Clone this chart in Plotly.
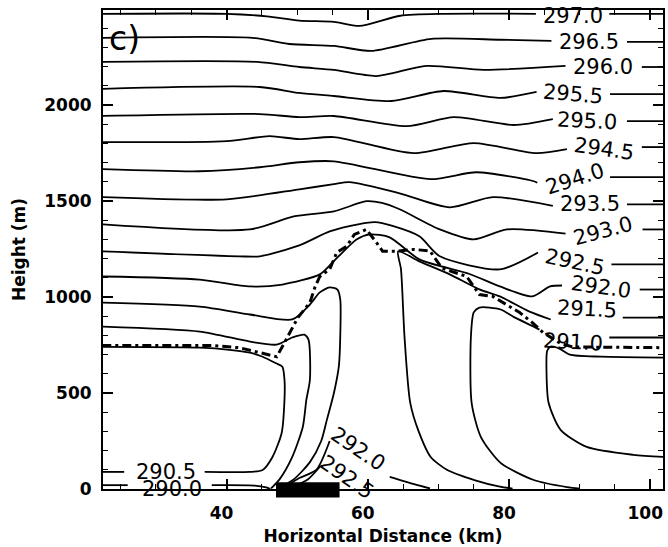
import plotly.graph_objects as go

# ---------------- data: isentropes (x in km, height in m) ----------------
x_2970 = [22.4, 40.0, 45.7, 50.3, 55.2, 58.8, 64.6, 70.7, 83.8, None, 94.2, 102.2]
z_2970 = [2475, 2475, 2462, 2440, 2433, 2412, 2465, 2475, 2475, None, 2475, 2475]

x_2965 = [22.4, 43.7, 48.9, 55.2, 60.5, 69.0, 78.8, 86.0, None, 96.7, 102.2]
z_2965 = [2350, 2350, 2318, 2308, 2282, 2345, 2340, 2334, None, 2329, 2329]

x_2960 = [22.4, 44.3, 50.3, 55.2, 61.2, 68.3, 76.4, 88.0, None, 98.8, 102.2]
z_2960 = [2225, 2225, 2198, 2183, 2151, 2204, 2183, 2204, None, 2198, 2198]

x_2955 = [22.4, 44.7, 50.3, 55.2, 63.3, 70.7, 78.8, 83.9, None, 94.3, 102.2]
z_2955 = [2084, 2094, 2063, 2047, 2021, 2073, 2037, 2068, None, 2057, 2057]

x_2950 = [22.4, 44.7, 50.3, 55.2, 65.5, 72.2, 80.7, 86.2, None, 96.7, 102.2]
z_2950 = [1943, 1953, 1937, 1943, 1890, 1937, 1896, 1927, None, 1916, 1916]

x_2945 = [22.4, 40.0, 46.1, 50.3, 55.2, 66.5, 75.0, 83.9, 88.2, None, 98.8, 102.2]
z_2945 = [1807, 1812, 1838, 1822, 1833, 1749, 1802, 1749, 1770, None, 1781, 1781]

x_2940 = [22.4, 36.2, 44.7, 50.3, 55.2, 68.9, 75.4, 83.5, 84.0, None, 94.3, 102.2]
z_2940 = [1666, 1655, 1676, 1702, 1707, 1614, 1650, 1603, 1595, None, 1624, 1624]

x_2935 = [22.4, 40.0, 50.3, 55.2, 57.4, 64.5, 71.6, 77.7, 86.2, None, 96.7, 102.2]
z_2935 = [1520, 1509, 1561, 1588, 1598, 1540, 1467, 1520, 1475, None, 1483, 1483]

x_2930 = [22.4, 43.3, 49.5, 55.2, 59.8, 62.0, 64.5, 70.2, 75.0, 79.7, 88.0, None, 98.9, 102.2]
z_2930 = [1379, 1352, 1420, 1446, 1499, 1490, 1457, 1352, 1300, 1352, 1330, None, 1352, 1352]

x_2925 = [22.4, 41.8, 44.7, 50.3, 54.6, 58.8, 61.0, 63.5, 67.3, 70.2, 78.7, 84.1, None, 94.5, 102.2]
z_2925 = [1238, 1212, 1212, 1269, 1342, 1380, 1390, 1370, 1316, 1212, 1144, 1232, None, 1170, 1170]

x_2920 = [22.4, 36.2, 43.3, 47.9, 53.2, 55.0, 58.4, 60.3, 63.1, 67.3, 74.4, 78.7, 83.3, 85.8, 87.5, None, 98.5, 102.2]
z_2920 = [1107, 1091, 1055, 1065, 1118, 1180, 1300, 1326, 1311, 1196, 1120, 1055, 1003, 1055, 1060, None, 1039, 1039]

x_2915_left = [22.4, 36.2, 43.3, 49.3, 51.8, 53.2, 54.6, 55.7, 56.1, 56.1, 55.9, 55.2, 54.2, 53.4, 51.8, 49.5, 47.3]
z_2915_left = [971, 950, 909, 883, 961, 1024, 1050, 1039, 987, 800, 640, 500, 360, 250, 140, 50, 3]

x_2910_left = [22.4, 36.2, 43.3, 47.1, 49.3, 51.0, 51.6, 51.8, 51.3, 50.8, 49.3, 47.5, 46.3]
z_2910_left = [846, 820, 768, 752, 789, 804, 778, 569, 465, 324, 167, 50, 3]

x_2905_left = [22.4, 36.2, 40.4, 43.3, 45.1, 47.0, 47.9, 48.2, 48.2, 47.8, 46.5, 45.1, 43.3, 36.9, None, 25.5, 22.4]
z_2905_left = [740, 736, 725, 710, 689, 655, 637, 569, 465, 292, 167, 99, 89, 89, None, 89, 89]

x_2900 = [22.4, 26.0, None, 37.9, 44.0, 45.6, 46.2]
z_2900 = [20, 20, None, 20, 18, 8, 0]

x_2920_sfc = [47.9, 50.3, 52.7, 54.6, None, 63.1, 66.9, 68.8]
z_2920_sfc = [3, 57, 99, 250, None, 63, 21, 3]

x_2925_sfc = [48.9, 51.5, 53.3]
z_2925_sfc = [5, 50, 120]

x_2915_right = [80.5, 78.7, 75.2, 71.2, 68.9, 67.2, 66.0, 65.2, 64.7, 64.3, 67.3, 71.6, 75.8, 78.7, 82.9, 85.9, None, 96.1, 102.2]
z_2915_right = [2, 12, 45, 100, 167, 300, 450, 790, 1144, 1238, 1186, 1118, 1040, 1003, 924, 883, None, 893, 893]

x_2910_right = [90.0, 88.2, 83.5, 78.8, 76.0, 74.7, 74.6, 75.0, 75.8, 78.8, 80.7, 83.5, 84.3, None, 94.2, 102.2]
z_2910_right = [2, 10, 47, 136, 272, 449, 794, 920, 945, 935, 895, 846, 830, None, 789, 789]

x_2905_right = [102.2, 97.6, 91.0, 87.3, 85.6, 85.3, 85.4, 85.9, 87.2, 88.6, 93.0, 102.2]
z_2905_right = [167, 178, 219, 308, 449, 621, 720, 742, 730, 700, 689, 684]

# boundary-layer top (dash-dot)
x_bl = [22.4, 38.0, 41.8, 44.5, 47.1, 47.9, 49.2, 50.1, 51.8, 52.5, 53.2, 54.6, 55.6, 57.0, 58.1, 59.8,
        61.2, 62.1, 64.1, 66.5, 68.8, 70.5, 74.0, 75.8, 77.7, 81.5, 83.3, 84.8, 87.2, 89.0, 102.2]
z_bl = [747, 747, 736, 710, 689, 742, 830, 893, 971, 1050, 1107, 1144, 1232, 1264, 1326, 1352,
        1285, 1238, 1238, 1248, 1240, 1150, 1107, 1013, 1003, 919, 867, 815, 760, 740, 736]

# heated strip on the surface (km)
strip_start, strip_end = 47.0, 56.0

# contour labels: text, x (km), z (m), angle
label_text = ["297.0", "296.5", "296.0", "295.5", "295.0", "294.5", "294.0", "293.5", "293.0",
              "292.5", "292.0", "291.5", "291.0", "290.5", "290.0", "292.0", "292.5"]
label_x = [89.0, 91.3, 93.3, 89.0, 91.1, 93.5, 89.3, 91.4, 93.3, 89.3, 93.0, 91.0, 89.0, 31.4, 32.2, 58.6, 57.0]
label_z = [2465, 2329, 2198, 2057, 1916, 1770, 1614, 1483, 1342, 1185, 1050, 940, 768, 89, 0, 209, 63]
label_angle = [0, 0, 0, 5, 3, 8, -18, 0, -15, 12, 8, 3, 3, 0, 0, 34, 35]

# ---------------- figure ----------------
fig = go.Figure()

solid_lines = [
    (x_2970, z_2970), (x_2965, z_2965), (x_2960, z_2960), (x_2955, z_2955), (x_2950, z_2950),
    (x_2945, z_2945), (x_2940, z_2940), (x_2935, z_2935), (x_2930, z_2930), (x_2925, z_2925),
    (x_2920, z_2920), (x_2915_left, z_2915_left), (x_2910_left, z_2910_left),
    (x_2905_left, z_2905_left), (x_2900, z_2900), (x_2920_sfc, z_2920_sfc), (x_2925_sfc, z_2925_sfc),
    (x_2915_right, z_2915_right), (x_2910_right, z_2910_right), (x_2905_right, z_2905_right),
]
for xs, zs in solid_lines:
    fig.add_trace(go.Scatter(x=xs, y=zs, mode="lines", hoverinfo="skip",
                             line=dict(color="black", width=1.8, shape="spline", smoothing=0.7)))

fig.add_trace(go.Scatter(x=x_bl, y=z_bl, mode="lines", hoverinfo="skip",
                         line=dict(color="black", width=3, dash="9px,4px,3px,4px")))

fig.add_shape(type="rect", xref="x", yref="paper", x0=strip_start, x1=strip_end,
              y0=-0.018, y1=0.014, fillcolor="black", line=dict(width=0), layer="above")

for t, xv, zv, ang in zip(label_text, label_x, label_z, label_angle):
    fig.add_annotation(x=xv, y=zv, text=t, textangle=ang, showarrow=False,
                       font=dict(family="DejaVu Sans", size=21, color="black"))

fig.add_annotation(xref="paper", yref="paper", x=0.039, y=0.94, xanchor="center", yanchor="middle",
                   text="c)", showarrow=False,
                   font=dict(family="DejaVu Sans", size=33, color="black"))

axis_common = dict(showline=True, linewidth=2, linecolor="black", mirror="allticks",
                   ticks="inside", ticklen=10, tickwidth=1.5, tickcolor="black",
                   showgrid=False, zeroline=False, ticklabeloverflow="allow",
                   tickfont=dict(family="DejaVu Sans", size=17, color="black", weight="bold"))

fig.update_xaxes(range=[22.5, 101.8], tickmode="linear", tick0=0, dtick=20,
                 minor=dict(ticks="inside", dtick=5, tick0=0, ticklen=5, tickwidth=1.2, tickcolor="black"),
                 title=dict(text="Horizontal Distance (km)", standoff=8,
                            font=dict(family="DejaVu Sans", size=17, color="black", weight="bold")),
                 ticklabelstandoff=8, ticklabelshift=-5, **axis_common)
fig.update_yaxes(range=[0, 2495], tickmode="linear", tick0=0, dtick=500,
                 minor=dict(ticks="inside", dtick=100, tick0=0, ticklen=5, tickwidth=1.2, tickcolor="black"),
                 title=dict(text="Height (m)", standoff=14,
                            font=dict(family="DejaVu Sans", size=17, color="black", weight="bold")),
                 ticklabelstandoff=6, **axis_common)

fig.update_layout(width=668, height=547, margin=dict(l=103, r=3, t=10, b=58),
                  plot_bgcolor="white", paper_bgcolor="white", showlegend=False,
                  font=dict(family="DejaVu Sans", color="black"))

fig.write_html("out.html")
